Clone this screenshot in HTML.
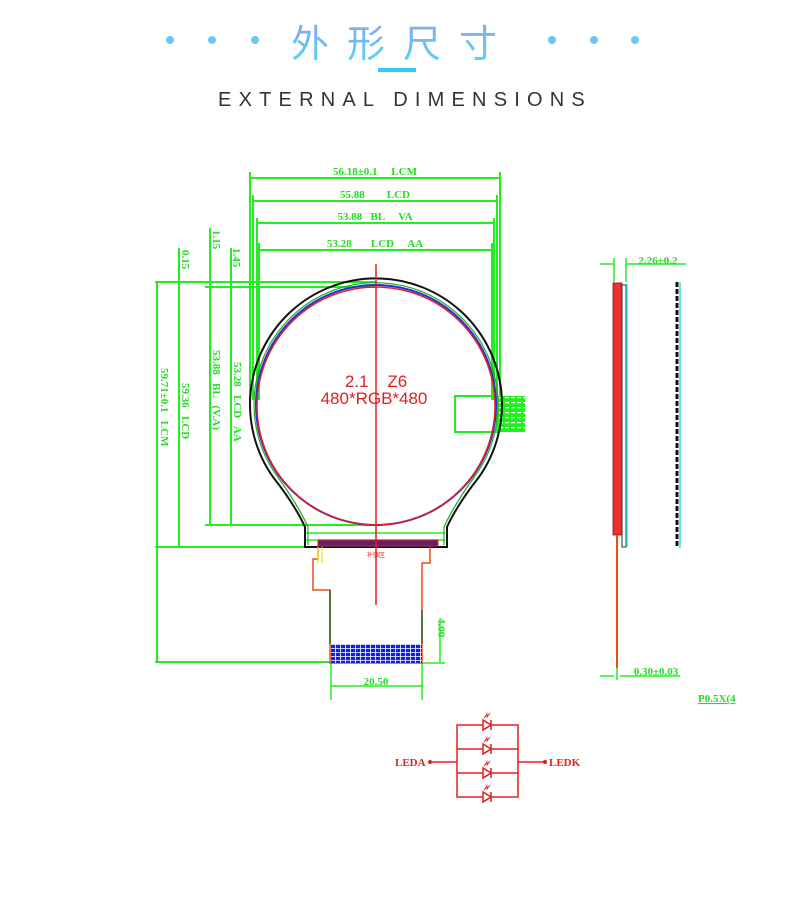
<!DOCTYPE html>
<html><head><meta charset="utf-8"><style>
html,body{margin:0;padding:0;background:#fff;}
svg{display:block;}
svg text{white-space:pre;}
</style></head><body>
<svg width="790" height="902" viewBox="0 0 790 902" xmlns="http://www.w3.org/2000/svg">
<defs>
<linearGradient id="tg" x1="0" y1="0" x2="0" y2="1"><stop offset="0" stop-color="#8aa8f0"/><stop offset="1" stop-color="#4fd8f8"/></linearGradient>
<pattern id="grid" width="5" height="4" patternUnits="userSpaceOnUse"><rect width="5" height="4" fill="#1020e0"/><path d="M0 0.5H5M0.5 0V4" stroke="#fff" stroke-width="0.8"/></pattern>
<pattern id="gridg" width="6" height="5" patternUnits="userSpaceOnUse"><rect width="6" height="5" fill="#22ee22"/><rect x="1" y="2" width="4" height="1.2" fill="#fff"/></pattern>
</defs>
<g fill="#6ec6f2">
<circle cx="170" cy="40" r="4"/><circle cx="212" cy="40" r="4"/><circle cx="255" cy="40" r="4"/>
<circle cx="552" cy="40" r="4"/><circle cx="594" cy="40" r="4"/><circle cx="635" cy="40" r="4"/>
</g>
<text x="403" y="57" text-anchor="middle" font-family="Liberation Sans, Noto Sans CJK SC, sans-serif" font-size="38" letter-spacing="18" fill="url(#tg)">外形尺寸</text>
<rect x="378" y="68" width="38" height="4" fill="#38c8f0"/>
<text x="405" y="106" text-anchor="middle" font-family="Liberation Sans, sans-serif" font-size="20" letter-spacing="7.2" fill="#333">EXTERNAL DIMENSIONS</text>

<g font-family="Liberation Serif, serif" font-size="11" font-weight="bold" fill="#22dd22">
<g stroke="#22ee22" stroke-width="2" fill="none">
<path d="M250 172V400M500 172V400M253 195V400M497 195V400M257 218V400M494 218V400M259 243V400M492 243V400"/>
<path d="M250 178H500M253 201H497M257 223H494M259 250H492"/>
<path d="M157 282V662M179 282V547M210 288V525M231 288V525"/>
<path d="M155 282H376M205 287H376M205 525H376M155 547H305M155 662H330"/>
<path d="M179 248V282M210 228V287M231 248V287"/>
<rect x="455" y="396" width="42" height="36"/>
</g>
<rect x="497" y="396" width="28" height="36" fill="url(#gridg)"/>
<text x="375" y="175" text-anchor="middle">56.18±0.1     LCM</text>
<text x="375" y="198" text-anchor="middle">55.88        LCD</text>
<text x="375" y="220" text-anchor="middle">53.88   BL     VA</text>
<text x="375" y="247" text-anchor="middle">53.28       LCD     AA</text>
<text transform="translate(161,368) rotate(90)">59.71±0.1   LCM</text>
<text transform="translate(182,383) rotate(90)">59.36   LCD</text>
<text transform="translate(213,350) rotate(90)">53.88   BL   (V.A)</text>
<text transform="translate(234,362) rotate(90)">53.28   LCD   AA</text>
<text transform="translate(182,250) rotate(90)">0.15</text>
<text transform="translate(213,230) rotate(90)">1.15</text>
<text transform="translate(233,248) rotate(90)">1.45</text>
<text transform="translate(438,618) rotate(90)">4.00</text>
<text x="376" y="685" text-anchor="middle">20.50</text>
<text x="658" y="264" text-anchor="middle">2.26±0.2</text>
<text x="656" y="675" text-anchor="middle">0.30±0.03</text>
<text x="698" y="702" text-decoration="underline">P0.5X(4</text>
</g>
<g stroke="#22ee22" stroke-width="1.5" fill="none">
<path d="M440 620V663M420 663H445M331 663V700M422 663V700M331 686H422"/>
<path d="M600 264H614M626 264H686M614 258V282M626 258V282"/>
<path d="M600 676H614M620 676H680M617 665V680"/>
<path d="M305 533H445M305 540H445"/>
</g>

<path d="M305 547 L305 527 Q295 505 273 477 A126 126 0 1 1 479 477 Q457 505 447 527 L447 547 Z" fill="none" stroke="#111" stroke-width="2"/>
<path d="M308 545 L308 527 Q298 505 277 476 A122 122 0 1 1 475 476 Q454 505 444 527 L444 545" fill="none" stroke="#22aa22" stroke-width="1.2"/>
<circle cx="376" cy="405" r="120" fill="none" stroke="#2030e0" stroke-width="2"/>
<circle cx="376" cy="406" r="119" fill="none" stroke="#e02020" stroke-width="1.5"/>
<rect x="318" y="540" width="120" height="6" fill="#602070" stroke="#e02020" stroke-width="1"/>
<path d="M318 547V559H313V590H330V663H422V563H430V547" fill="none" stroke="#f04a1a" stroke-width="1.5"/>
<path d="M318 547V563M322 547V563" stroke="#f0e020" stroke-width="1.2"/>
<rect x="331" y="644" width="91" height="19" fill="url(#grid)"/>
<path d="M330 590V644M422 610V644" stroke="#226622" stroke-width="1.5"/>
<text x="376" y="557" text-anchor="middle" font-family="Liberation Sans, Noto Sans CJK SC, sans-serif" font-size="6" fill="#e02020">补强区</text>
<path d="M376 264V605" stroke="#e02020" stroke-width="1.5"/>
<text x="376" y="387" text-anchor="middle" font-family="Liberation Sans, sans-serif" font-size="17" fill="#e02020">2.1    Z6</text>
<text x="374" y="404" text-anchor="middle" font-family="Liberation Sans, sans-serif" font-size="17" fill="#e02020">480*RGB*480</text>

<rect x="613" y="283" width="9" height="252" fill="#ee3030" stroke="#901010" stroke-width="0.8"/>
<rect x="622" y="285" width="4" height="262" fill="none" stroke="#303030" stroke-width="1"/>
<path d="M627 284V547" stroke="#30e0e0" stroke-width="1.5"/>
<path d="M617 535V668" stroke="#f04a1a" stroke-width="2"/>
<path d="M677 282V548" stroke="#111" stroke-width="3" stroke-dasharray="5 2"/>
<path d="M680 282V548" stroke="#30e0e0" stroke-width="1.5"/>

<g stroke="#e02020" stroke-width="1.5" fill="none">
<path d="M457 725H518V797H457ZM457 749H518M457 773H518M430 762H457M518 762H545"/>
<path d="M483 720L483 730L491 725Z M483 744L483 754L491 749Z M483 768L483 778L491 773Z M483 792L483 802L491 797Z M491 720V730M491 744V754M491 768V778M491 792V802" fill="#fff"/>
<path d="M484 718l3-4v3l3-4M484 742l3-4v3l3-4M484 766l3-4v3l3-4M484 790l3-4v3l3-4" stroke-width="1"/>
</g>
<circle cx="430" cy="762" r="2" fill="#e02020"/><circle cx="545" cy="762" r="2" fill="#e02020"/>
<text x="395" y="766" font-family="Liberation Serif, serif" font-size="11" font-weight="bold" fill="#e02020">LEDA</text>
<text x="549" y="766" font-family="Liberation Serif, serif" font-size="11" font-weight="bold" fill="#e02020">LEDK</text>
</svg>
</body></html>
